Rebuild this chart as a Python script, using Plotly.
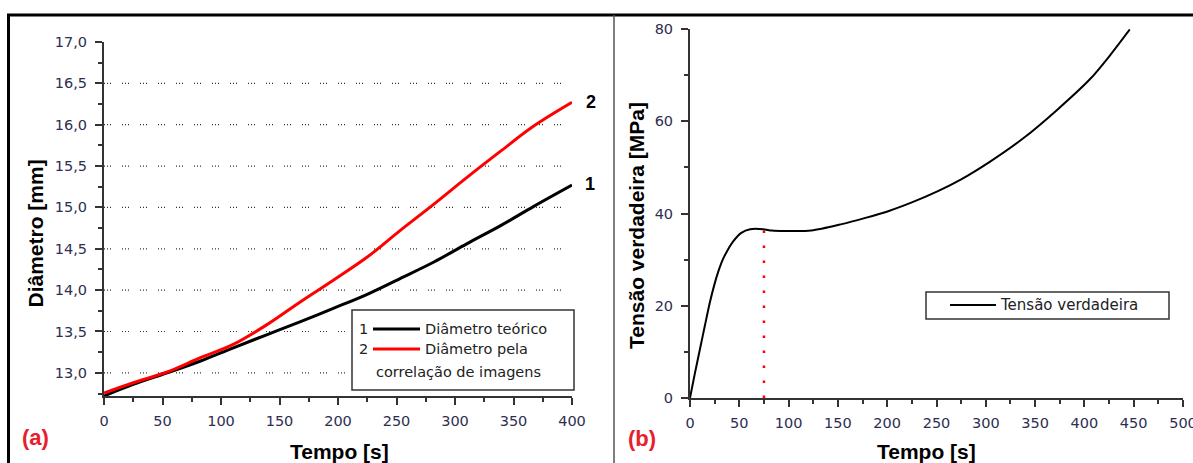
import plotly.graph_objects as go

W, H = 1193, 463

# ---------------- data ----------------
# panel (a): diameter vs time
tempo_a = [0, 25, 54, 82, 110, 139, 168, 196, 225, 253, 282, 310, 339, 367, 400]
diam_teorico = [12.72, 12.86, 13.00, 13.14, 13.30, 13.46, 13.62, 13.78, 13.95, 14.14, 14.34, 14.56, 14.78, 15.01, 15.27]
diam_correl = [12.755, 12.88, 13.01, 13.18, 13.34, 13.58, 13.86, 14.12, 14.40, 14.72, 15.04, 15.36, 15.68, 15.98, 16.27]
grid_a = [13.0, 13.5, 14.0, 14.5, 15.0, 15.5, 16.0, 16.5]

# panel (b): true stress vs time
tempo_b = [0, 5, 10, 15, 20, 25, 29, 33, 38, 44, 52, 61, 74, 83, 96, 123, 154, 177, 201, 225, 252,
           275, 304, 338, 372, 406, 426, 446]
tensao = [0, 5.4, 10.5, 15.6, 20.6, 24.8, 27.6, 29.9, 32.0, 34.0, 35.8, 36.6, 36.6, 36.3, 36.2, 36.3, 37.7,
          39.0, 40.5, 42.4, 44.9, 47.4, 51.2, 56.3, 62.4, 69.2, 74.3, 79.9]
t_escoamento = [75, 75]
s_escoamento = [0, 36.6]


def px(x):
    return x / W


def py(y):
    return 1 - y / H


fig = go.Figure()

fig.add_trace(go.Scatter(x=tempo_a, y=diam_teorico, mode="lines", name="Diâmetro teórico",
                         line=dict(color="black", width=3, shape="spline", smoothing=1.0),
                         xaxis="x", yaxis="y"))
fig.add_trace(go.Scatter(x=tempo_a, y=diam_correl, mode="lines",
                         name="Diâmetro pela correlação de imagens",
                         line=dict(color="#ff0000", width=3, shape="spline", smoothing=1.0),
                         xaxis="x", yaxis="y"))
fig.add_trace(go.Scatter(x=t_escoamento, y=s_escoamento, mode="lines", showlegend=False,
                         line=dict(color="#ff0000", width=2.5, dash="2.5px,12.5px"),
                         xaxis="x2", yaxis="y2"))
fig.add_trace(go.Scatter(x=tempo_b, y=tensao, mode="lines", name="Tensão verdadeira",
                         line=dict(color="black", width=2, shape="spline", smoothing=0.8),
                         xaxis="x2", yaxis="y2"))

tickfont = dict(family="DejaVu Sans", size=14.5, color="#2e2e50")
axis_common = dict(showline=True, linecolor="#333", linewidth=2, ticks="outside", ticklen=7,
                   tickwidth=1.5, tickcolor="#333", showgrid=False, zeroline=False,
                   mirror=False, automargin=False, tickfont=tickfont, ticklabeloverflow="allow")

fig.update_layout(
    width=W, height=H, margin=dict(l=0, r=0, t=0, b=0),
    paper_bgcolor="white", plot_bgcolor="white", showlegend=False,
    separators=",.", template="none",
    xaxis=dict(domain=[px(104), px(572)], range=[0, 400], tick0=0, dtick=50,
               minor=dict(dtick=25, ticklen=4, tickcolor="#333", tickwidth=1.5, ticks="outside"),
               anchor="y", ticklabelstandoff=4, **axis_common),
    yaxis=dict(domain=[py(396), py(42)], range=[12.72, 17.0], tick0=0, dtick=0.5, tickformat=".1f",
               minor=dict(dtick=0.25, ticklen=4, tickcolor="#333", tickwidth=1.5, ticks="outside"),
               anchor="x", ticklabelstandoff=5, **axis_common),
    xaxis2=dict(domain=[px(690), px(1183)], range=[0, 500], tick0=0, dtick=50,
                minor=dict(dtick=25, ticklen=4, tickcolor="#333", tickwidth=1.5, ticks="outside"),
                anchor="y2", ticklabelstandoff=4, **axis_common),
    yaxis2=dict(domain=[py(398), py(29)], range=[0, 80], tick0=0, dtick=20,
                minor=dict(dtick=10, ticklen=4, tickcolor="#333", tickwidth=1.5, ticks="outside"),
                anchor="x2", ticklabelstandoff=5, **axis_common),
)

shapes = []
# dotted horizontal grid (panel a)
for g in grid_a:
    shapes.append(dict(type="line", xref="x", yref="y", x0=0, x1=400, y0=g, y1=g,
                       line=dict(color="#333", width=1.2, dash="1px,2px,1px,2px,1px,11px"), layer="below"))
# outer frame + divider
shapes.append(dict(type="rect", xref="paper", yref="paper", x0=px(8.5), x1=1.05, y0=-0.1, y1=py(15),
                   line=dict(color="black", width=3)))
shapes.append(dict(type="line", xref="paper", yref="paper", x0=px(614), x1=px(614), y0=-0.1, y1=py(15),
                   line=dict(color="#555", width=1.5)))
# legend (a)
shapes.append(dict(type="rect", xref="paper", yref="paper", x0=px(352), x1=px(574), y0=py(390), y1=py(310),
                   line=dict(color="#333", width=1.5), fillcolor="white"))
shapes.append(dict(type="line", xref="paper", yref="paper", x0=px(373), x1=px(420), y0=py(329), y1=py(329),
                   line=dict(color="black", width=3)))
shapes.append(dict(type="line", xref="paper", yref="paper", x0=px(373), x1=px(420), y0=py(349), y1=py(349),
                   line=dict(color="#ff0000", width=3)))
# legend (b)
shapes.append(dict(type="rect", xref="paper", yref="paper", x0=px(926), x1=px(1169), y0=py(319), y1=py(292),
                   line=dict(color="#333", width=1.5), fillcolor="white"))
shapes.append(dict(type="line", xref="paper", yref="paper", x0=px(950), x1=px(996), y0=py(305), y1=py(305),
                   line=dict(color="black", width=2)))
fig.update_layout(shapes=shapes)

title_font = dict(family="Arial, Liberation Sans", size=21, color="black", weight="bold")
leg_font = dict(family="DejaVu Sans", size=14.5, color="#222")
ann = []


def A(x, y, text, font, xanchor="center", yanchor="middle", angle=0):
    ann.append(dict(xref="paper", yref="paper", x=px(x), y=py(y), text=text, showarrow=False,
                    font=font, xanchor=xanchor, yanchor=yanchor, textangle=angle))


A(34.5, 234, "Diâmetro [mm]", title_font, angle=-90)
A(339, 451, "Tempo [s]", title_font)
A(636, 226, "Tensão verdadeira [MPa]", title_font, angle=-90)
A(926, 451, "Tempo [s]", title_font)
A(35, 437, "(a)", dict(family="Arial, Liberation Sans", size=22, color="#e8202a", weight="bold"))
A(642, 438, "(b)", dict(family="Arial, Liberation Sans", size=22, color="#e8202a", weight="bold"))
A(591, 102, "2", dict(family="Arial, Liberation Sans", size=18, color="black", weight="bold"))
A(590, 184, "1", dict(family="Arial, Liberation Sans", size=18, color="black", weight="bold"))
A(363, 329, "1", leg_font)
A(363, 349, "2", leg_font)
A(423, 329, "Diâmetro teórico", leg_font, xanchor="left")
A(423, 349, "Diâmetro pela", leg_font, xanchor="left")
A(374, 372, "correlação de imagens", leg_font, xanchor="left")
A(998, 305, "Tensão verdadeira", dict(family="DejaVu Sans", size=15, color="#222"), xanchor="left")
fig.update_layout(annotations=ann)

fig.write_html("out.html")
